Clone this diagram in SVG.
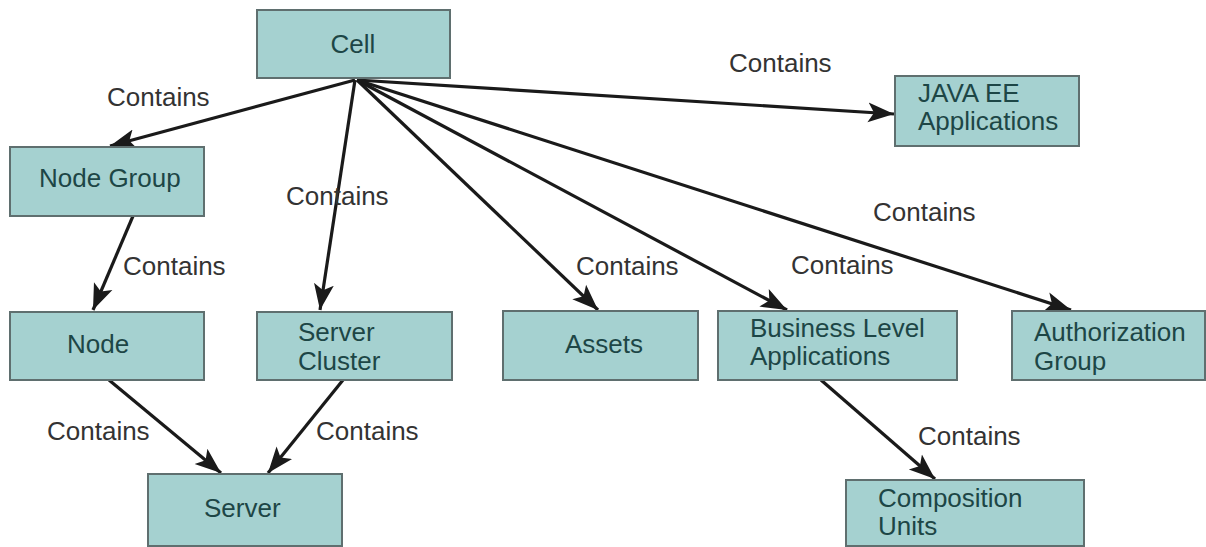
<svg xmlns="http://www.w3.org/2000/svg" width="1206" height="547" viewBox="0 0 1206 547">
<style>
.box{fill:#a5d1d0;stroke:#5f6f6f;stroke-width:2}
.lbl{font-family:"Liberation Sans",Arial,sans-serif;font-size:26px;fill:#1d4646}
.ctn{font-family:"Liberation Sans",Arial,sans-serif;font-size:26px;fill:#333333}
.edge{stroke:#1a1a1a;stroke-width:3.2;fill:none;marker-end:url(#ah)}
</style>
<defs>
<marker id="ah" markerUnits="userSpaceOnUse" markerWidth="28" markerHeight="24" viewBox="0 0 28 24" refX="26" refY="12" orient="auto">
<path d="M0,2 L26,12 L0,22 L6,12 Z" fill="#1a1a1a"/>
</marker>
</defs>
<rect width="1206" height="547" fill="#ffffff"/>
<g id="connectors">
<line class="edge" x1="355" y1="80" x2="110" y2="146"/>
<line class="edge" x1="355" y1="80" x2="320" y2="310"/>
<line class="edge" x1="357" y1="80" x2="598" y2="310"/>
<line class="edge" x1="357" y1="80" x2="787" y2="310"/>
<line class="edge" x1="357" y1="80" x2="1071" y2="310"/>
<line class="edge" x1="357" y1="80" x2="894" y2="114"/>
<line class="edge" x1="133" y1="216" x2="93" y2="310"/>
<line class="edge" x1="109" y1="380" x2="221" y2="473"/>
<line class="edge" x1="343" y1="380" x2="268" y2="473"/>
<line class="edge" x1="821" y1="380" x2="935" y2="479"/>
<text class="ctn" x="107" y="106">Contains</text>
<text class="ctn" x="729" y="72">Contains</text>
<text class="ctn" x="286" y="205">Contains</text>
<text class="ctn" x="123" y="275">Contains</text>
<text class="ctn" x="576" y="275">Contains</text>
<text class="ctn" x="791" y="274">Contains</text>
<text class="ctn" x="873" y="221">Contains</text>
<text class="ctn" x="47" y="440">Contains</text>
<text class="ctn" x="316" y="440">Contains</text>
<text class="ctn" x="918" y="445">Contains</text>
</g>
<g id="cell"><rect class="box" x="257" y="10" width="193" height="68"/><text class="lbl" x="353" y="53" text-anchor="middle">Cell</text></g>
<g id="javaee"><rect class="box" x="895" y="76" width="184" height="70"/><text class="lbl" x="918" y="102">JAVA EE</text><text class="lbl" x="918" y="130">Applications</text></g>
<g id="nodegroup"><rect class="box" x="10" y="147" width="194" height="69"/><text class="lbl" x="39" y="187">Node Group</text></g>
<g id="node"><rect class="box" x="10" y="312" width="194" height="68"/><text class="lbl" x="67" y="353">Node</text></g>
<g id="servercluster"><rect class="box" x="257" y="312" width="195" height="68"/><text class="lbl" x="298" y="341">Server</text><text class="lbl" x="298" y="370">Cluster</text></g>
<g id="assets"><rect class="box" x="503" y="311" width="195" height="69"/><text class="lbl" x="565" y="353">Assets</text></g>
<g id="bla"><rect class="box" x="718" y="311" width="239" height="69"/><text class="lbl" x="750" y="337">Business Level</text><text class="lbl" x="750" y="365">Applications</text></g>
<g id="authgroup"><rect class="box" x="1012" y="311" width="193" height="69"/><text class="lbl" x="1034" y="341">Authorization</text><text class="lbl" x="1034" y="370">Group</text></g>
<g id="server"><rect class="box" x="148" y="474" width="194" height="72"/><text class="lbl" x="204" y="517">Server</text></g>
<g id="composition"><rect class="box" x="846" y="480" width="238" height="66"/><text class="lbl" x="878" y="507">Composition</text><text class="lbl" x="878" y="535">Units</text></g>
</svg>
